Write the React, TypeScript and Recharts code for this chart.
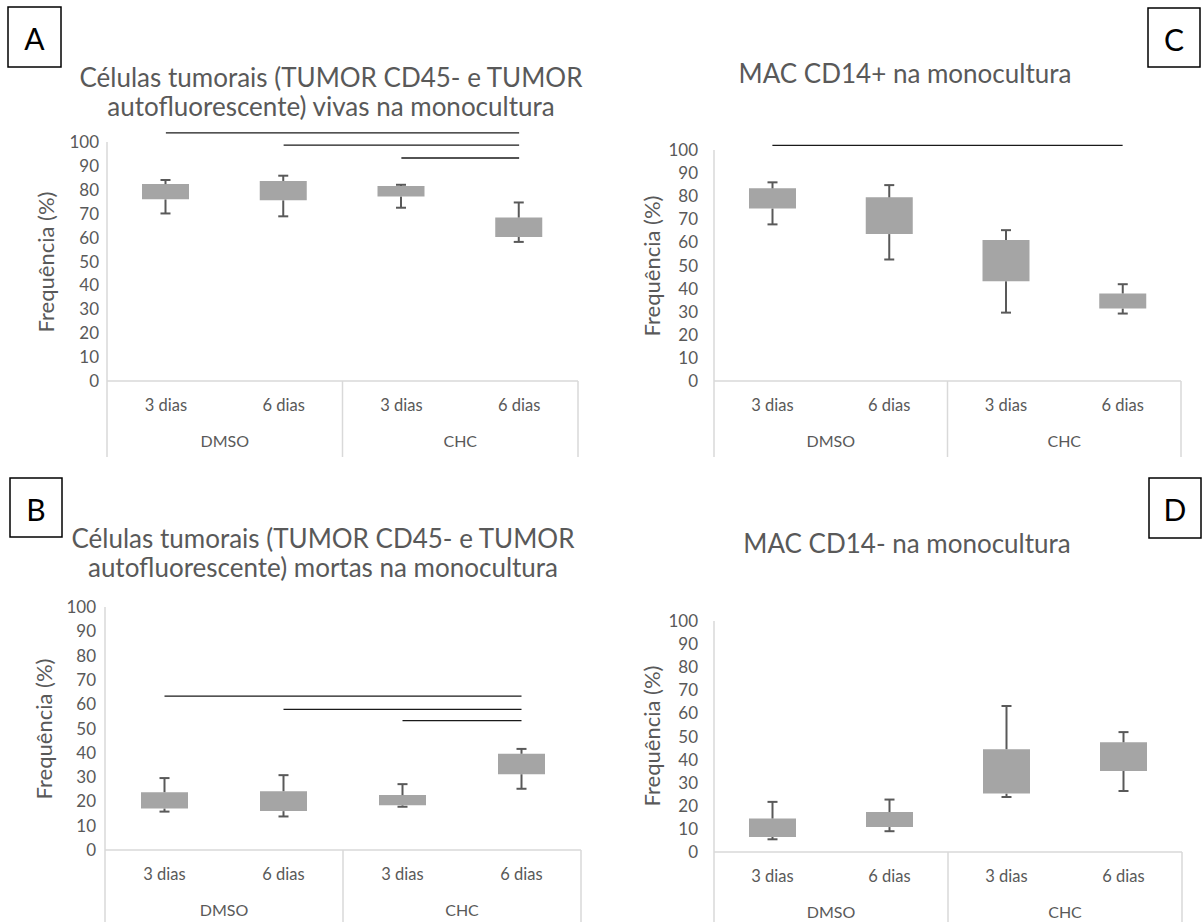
import React from 'react';
import { ComposedChart, Bar, XAxis, YAxis, ReferenceLine } from 'recharts';

// categories
const dayLabels = ['3 dias', '6 dias', '3 dias', '6 dias'];
const groupLabels = ['DMSO', 'DMSO', 'CHC', 'CHC'];
const yTicks = [0, 10, 20, 30, 40, 50, 60, 70, 80, 90, 100];

// A - vivas
const aMin = [70.1, 68.9, 72.5, 58.2];
const aQ1 = [76.0, 75.6, 77.2, 60.3];
const aQ3 = [82.4, 83.7, 81.6, 68.4];
const aMax = [84.1, 85.9, 82.1, 74.7];
const aSigFrom = [0, 1, 2];
const aSigY = [103.8, 98.7, 93.3];

// C - MAC CD14+
const cMin = [67.8, 52.6, 29.6, 29.2];
const cQ1 = [74.7, 63.6, 43.2, 31.4];
const cQ3 = [83.4, 79.5, 61.0, 37.9];
const cMax = [86.0, 84.8, 65.3, 41.9];
const cSigFrom = [0];
const cSigY = [102];

// B - mortas
const bMin = [15.8, 13.8, 17.8, 25.2];
const bQ1 = [17.1, 16.0, 18.4, 31.2];
const bQ3 = [23.8, 24.2, 22.6, 39.6];
const bMax = [29.6, 30.8, 27.1, 41.6];
const bSigFrom = [0, 1, 2];
const bSigY = [63.3, 57.9, 53.2];

// D - MAC CD14-
const dMin = [5.5, 9.0, 23.8, 26.4];
const dQ1 = [6.5, 10.8, 25.3, 35.1];
const dQ3 = [14.5, 17.3, 44.5, 47.5];
const dMax = [21.7, 22.7, 63.2, 51.9];

const FONT = 'Lato, "Open Sans", sans-serif';
const TEXT = '#595959';
const AXIS = '#d9d9d9';
const BOX = '#a5a5a5';
const WHISK = '#595959';

const buildRows = (min: number[], q1: number[], q3: number[], max: number[]) =>
  dayLabels.map((d, i) => ({
    key: `${groupLabels[i]} ${d}`,
    day: d,
    group: groupLabels[i],
    base: min[i],
    low: q1[i] - min[i],
    box: q3[i] - q1[i],
    high: max[i] - q3[i],
  }));

const LowWhisker = (p: any) => {
  const cx = p.x + p.width / 2;
  const yb = p.y + p.height;
  return (
    <g>
      <line x1={cx} x2={cx} y1={p.y} y2={yb} stroke={WHISK} strokeWidth={2} />
      <line x1={cx - 5} x2={cx + 5} y1={yb} y2={yb} stroke={WHISK} strokeWidth={2} />
    </g>
  );
};

const HighWhisker = (p: any) => {
  const cx = p.x + p.width / 2;
  return (
    <g>
      <line x1={cx} x2={cx} y1={p.y} y2={p.y + p.height} stroke={WHISK} strokeWidth={2} />
      <line x1={cx - 5} x2={cx + 5} y1={p.y} y2={p.y} stroke={WHISK} strokeWidth={2} />
    </g>
  );
};

interface PanelProps {
  rows: ReturnType<typeof buildRows>;
  sigFrom?: number[];
  sigY?: number[];
  chartLeft: number;
  plotLeft: number;
  plotRight: number;
  plotTop: number;
  plotBottom: number;
  tickGap: number;
}

const Y_W = 50;
const AX1_H = 40;
const AX2_H = 35;

const BoxPanel: React.FC<PanelProps> = ({ rows, sigFrom = [], sigY = [], chartLeft, plotLeft, plotRight, plotTop, plotBottom, tickGap }) => {
  const chartTop = plotTop - 40;
  const width = 600;
  const height = plotBottom - chartTop + AX1_H + AX2_H + 5;
  const band = (plotRight - plotLeft) / 4;

  const DayTick = (props: any) => {
    const { x, y, payload, index } = props;
    const half = payload && payload.offset ? payload.offset : band / 2;
    const row = rows.find((r) => r.key === payload.value);
    return (
      <g>
        <text x={x} y={y + 24} textAnchor="middle" dominantBaseline="central" fill={TEXT} fontSize={16.5} fontFamily={FONT}>
          {row ? row.day : ''}
        </text>
        {index === 0 && <line x1={x - half} x2={x - half} y1={y} y2={y + 76} stroke={AXIS} strokeWidth={1.5} />}
        {(index === 1 || index === 3) && <line x1={x + half} x2={x + half} y1={y} y2={y + 76} stroke={AXIS} strokeWidth={1.5} />}
      </g>
    );
  };

  const GroupTick = (props: any) => {
    const { x, y, payload } = props;
    return (
      <text x={x} y={y + 19} textAnchor="middle" dominantBaseline="central" fill={TEXT} fontSize={16} fontFamily={FONT}>
        {payload.value}
      </text>
    );
  };

  return (
    <div style={{ position: 'absolute', left: chartLeft, top: chartTop }}>
      <ComposedChart
        width={width}
        height={height}
        data={rows}
        margin={{ top: plotTop - chartTop, right: chartLeft + width - plotRight, bottom: 5, left: plotLeft - chartLeft - Y_W }}
      >
        <XAxis dataKey="key" axisLine={{ stroke: AXIS, strokeWidth: 1.5 }} tickLine={false} tickSize={0} tickMargin={0} height={AX1_H} tick={DayTick} interval={0} />
        <XAxis xAxisId="grp" dataKey="group" allowDuplicatedCategory={false} axisLine={false} tickLine={false} tickSize={0} tickMargin={0} height={AX2_H} tick={GroupTick} interval={0} />
        <YAxis
          type="number"
          domain={[0, 100]}
          ticks={yTicks}
          interval={0}
          width={Y_W}
          axisLine={{ stroke: AXIS, strokeWidth: 1.5 }}
          tickLine={false}
          tickSize={0}
          tickMargin={tickGap}
          tick={{ fill: TEXT, fontSize: 17, fontFamily: FONT }}
        />
        <Bar dataKey="base" stackId="s" fill="none" barSize={47} isAnimationActive={false} />
        <Bar dataKey="low" stackId="s" shape={LowWhisker} barSize={47} isAnimationActive={false} />
        <Bar dataKey="box" stackId="s" fill={BOX} barSize={47} isAnimationActive={false} />
        <Bar dataKey="high" stackId="s" shape={HighWhisker} barSize={47} isAnimationActive={false} />
        {sigFrom.map((f, i) => (
          <ReferenceLine
            key={i}
            ifOverflow="visible"
            segment={[
              { x: rows[f].key, y: sigY[i] },
              { x: rows[3].key, y: sigY[i] },
            ]}
            stroke="#1a1a1a"
            strokeWidth={1.3}
          />
        ))}
      </ComposedChart>
    </div>
  );
};

const LetterBox = ({ x, y, w, h, t }: { x: number; y: number; w: number; h: number; t: string }) => (
  <g>
    <rect x={x} y={y} width={w} height={h} fill="none" stroke="#000" strokeWidth={1.5} />
    <text x={x + w / 2} y={y + h / 2 + 1} textAnchor="middle" dominantBaseline="central" fontSize={30} fontFamily={FONT} fill="#000">
      {t}
    </text>
  </g>
);

const Title = ({ x, ys, lines }: { x: number; ys: number[]; lines: string[] }) => (
  <g>
    {lines.map((l, i) => (
      <text key={i} x={x} y={ys[i]} textAnchor="middle" fontSize={26} fontFamily={FONT} fill={TEXT}>
        {l}
      </text>
    ))}
  </g>
);

const YLabel = ({ x, y }: { x: number; y: number }) => (
  <text x={x} y={y} transform={`rotate(-90 ${x} ${y})`} textAnchor="middle" dominantBaseline="central" fontSize={22} fontFamily={FONT} fill={TEXT}>
    Frequência (%)
  </text>
);

export default function App() {
  return (
    <div style={{ position: 'absolute', left: 0, top: 0, width: 1202, height: 922, overflow: 'hidden', background: '#fff' }}>
      <BoxPanel rows={buildRows(aMin, aQ1, aQ3, aMax)} sigFrom={aSigFrom} sigY={aSigY} chartLeft={0} plotLeft={107} plotRight={578} plotTop={142} plotBottom={381} tickGap={8} />
      <BoxPanel rows={buildRows(cMin, cQ1, cQ3, cMax)} sigFrom={cSigFrom} sigY={cSigY} chartLeft={600} plotLeft={714} plotRight={1181} plotTop={150} plotBottom={381} tickGap={16} />
      <BoxPanel rows={buildRows(bMin, bQ1, bQ3, bMax)} sigFrom={bSigFrom} sigY={bSigY} chartLeft={0} plotLeft={105} plotRight={581} plotTop={607} plotBottom={850} tickGap={9} />
      <BoxPanel rows={buildRows(dMin, dQ1, dQ3, dMax)} chartLeft={600} plotLeft={714} plotRight={1182} plotTop={621} plotBottom={852} tickGap={16} />
      <svg width={1202} height={922} style={{ position: 'absolute', left: 0, top: 0, pointerEvents: 'none' }}>
        <LetterBox x={8} y={7} w={53} h={60} t="A" />
        <LetterBox x={1148} y={8} w={52} h={59} t="C" />
        <LetterBox x={10} y={478} w={52} h={59} t="B" />
        <LetterBox x={1149} y={478} w={52} h={60} t="D" />
        <Title x={331} ys={[87, 116]} lines={['Células tumorais (TUMOR CD45- e TUMOR', 'autofluorescente) vivas na monocultura']} />
        <Title x={905} ys={[83]} lines={['MAC CD14+ na monocultura']} />
        <Title x={323} ys={[548, 577]} lines={['Células tumorais (TUMOR CD45- e TUMOR', 'autofluorescente) mortas na monocultura']} />
        <Title x={907} ys={[553]} lines={['MAC CD14- na monocultura']} />
        <YLabel x={45} y={262} />
        <YLabel x={651} y={266} />
        <YLabel x={43} y={729} />
        <YLabel x={651} y={736} />
      </svg>
    </div>
  );
}
